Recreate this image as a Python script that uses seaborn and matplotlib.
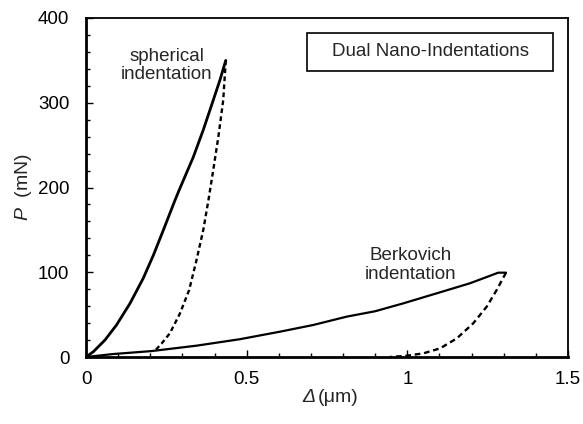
import matplotlib
matplotlib.use("Agg")
import matplotlib.pyplot as plt
import seaborn as sns
import pandas as pd
from matplotlib.ticker import MultipleLocator
from matplotlib.patches import Rectangle

sns.set_style("ticks")
plt.rcParams['font.family'] = ['Liberation Sans', 'DejaVu Sans']
plt.rcParams['mathtext.fontset'] = 'custom'
plt.rcParams['mathtext.it'] = 'Liberation Sans:italic'
plt.rcParams['mathtext.rm'] = 'Liberation Sans'

# Spherical indentation: loading (solid) and unloading (dashed)
sph_load_x = [0.0, 0.023, 0.059, 0.095, 0.137, 0.178, 0.21, 0.241, 0.277,
              0.290, 0.334, 0.365, 0.396, 0.417, 0.435]
sph_load_y = [0.0, 6.3, 20, 37.8, 63.3, 92.8, 120.4, 150, 185,
              197, 236, 268, 303, 327, 350]
sph_unload_x = [0.435, 0.427, 0.412, 0.396, 0.381, 0.365, 0.344, 0.321,
                0.2925, 0.261, 0.2355, 0.2147]
sph_unload_y = [350, 303, 260, 220.6, 185, 150, 114.5, 79,
                51.5, 28, 16, 7.5]

# Berkovich indentation: loading (solid) and unloading (dashed)
brk_load_x = [0.0, 0.085, 0.2045, 0.3445, 0.479, 0.604, 0.7075, 0.811,
              0.9, 0.9875, 1.091, 1.195, 1.283, 1.307]
brk_load_y = [0.0, 3.5, 7, 13.4, 21, 29.9, 37.8, 47.6,
              54, 63.3, 75.1, 87, 99.5, 99.5]
brk_unload_x = [1.307, 1.278, 1.247, 1.205, 1.154, 1.102, 1.05, 0.998, 0.946]
brk_unload_y = [99.5, 79, 59.4, 39.7, 22, 10.2, 4.3, 1.5, 0.0]

frames = []
for name, xs, ys in [("sph_load", sph_load_x, sph_load_y),
                     ("sph_unload", sph_unload_x, sph_unload_y),
                     ("brk_load", brk_load_x, brk_load_y),
                     ("brk_unload", brk_unload_x, brk_unload_y)]:
    frames.append(pd.DataFrame({"x": xs, "y": ys, "curve": name}))
df = pd.concat(frames, ignore_index=True)

fig = plt.figure(figsize=(5.83, 4.24), dpi=100)
ax = fig.add_axes([86/583, 1 - 357/424, (568-86)/583, (357-18)/424])

styles = {
    "sph_load": dict(lw=2.0, ls="-"),
    "sph_unload": dict(lw=1.7, ls=(0, (2.0, 1.4))),
    "brk_load": dict(lw=1.6, ls="-"),
    "brk_unload": dict(lw=1.7, ls=(0, (2.4, 1.6))),
}
for name, st in styles.items():
    sub = df[df["curve"] == name]
    sns.lineplot(data=sub, x="x", y="y", sort=False, estimator=None,
                 color="black", linewidth=st["lw"], linestyle=st["ls"], ax=ax)

ax.set_xlim(0, 1.5)
ax.set_ylim(0, 400)
ax.xaxis.set_minor_locator(MultipleLocator(0.1))
ax.yaxis.set_major_locator(MultipleLocator(100))
ax.yaxis.set_minor_locator(MultipleLocator(20))
ax.set_xticks([0, 0.5, 1, 1.5])
ax.set_xticklabels(["0", "0.5", "1", "1.5"])
ax.tick_params(which="both", direction="in", top=False, right=False, width=1.0,
               labelsize=13.5, colors="black")
ax.tick_params(axis="x", which="major", length=5, pad=10)
ax.tick_params(axis="y", which="major", length=5, pad=12)
ax.tick_params(which="minor", length=3)
for s in ax.spines.values():
    s.set_linewidth(1.3)
    s.set_color("black")
for s in ["bottom", "left"]:
    ax.spines[s].set_linewidth(2.0)

ax.set_xlabel("")
ax.set_ylabel(r"$\mathit{P}$  (mN)", fontsize=14, labelpad=3)
# x-axis label: italic Delta followed by upright unit
fig.text(302/583, 1 - 398/424, "Δ", fontsize=14, style="italic",
         ha="left", va="center")
fig.text(318/583, 1 - 398/424, "(μm)", fontsize=14, ha="left", va="center")

ax.text(0.252, 344, "spherical\nindentation", ha="center", va="center",
        fontsize=13.5, linespacing=1.1)
ax.text(1.011, 108.5, "Berkovich\nindentation", ha="center", va="center",
        fontsize=13.5, linespacing=1.1)
ax.add_patch(Rectangle((0.688, 337.5), 1.453 - 0.688, 382.3 - 337.5,
                       fill=False, ec="black", lw=1.2, zorder=5))
ax.text(1.071, 360, "Dual Nano-Indentations", ha="center", va="center",
        fontsize=13.5)

fig.savefig("out.png", dpi=100)
